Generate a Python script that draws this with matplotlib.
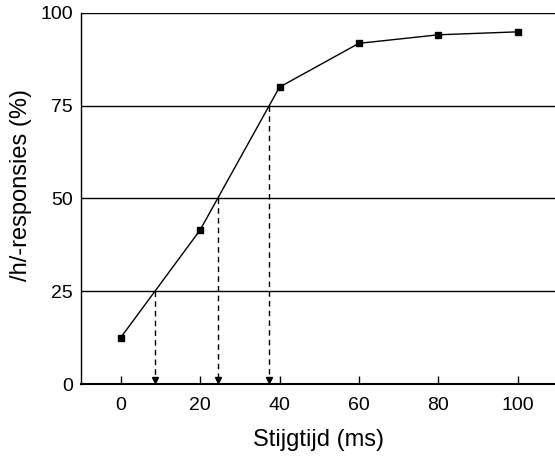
import matplotlib
matplotlib.use("Agg")
import matplotlib.pyplot as plt
import numpy as np

rise_time = [0, 20, 40, 60, 80, 100]
h_responses = [12.5, 41.5, 80.0, 91.8, 94.1, 94.9]
levels = [25, 50, 75]
xticks = [0, 20, 40, 60, 80, 100]
yticks = [0, 25, 50, 75, 100]

plt.rcParams['font.family'] = ['Liberation Sans', 'DejaVu Sans']

fig = plt.figure(figsize=(5.55, 4.61), dpi=100)
ax = fig.add_axes([0.146, 0.167, 0.854, 0.805])

for lv in yticks[1:]:
    ax.axhline(lv, color='black', lw=1.0, zorder=1)

ax.plot(rise_time, h_responses, color='black', lw=1.0, marker='s',
        markersize=5, zorder=3)

for lv in levels:
    xc = np.interp(lv, h_responses, rise_time)
    ax.plot([xc, xc], [lv, 1.2], color='black', lw=1.0,
            linestyle=(0, (4, 3)), zorder=2)
    ax.plot([xc], [1.0], marker='v', color='black', markersize=5,
            linestyle='none', zorder=3, clip_on=False)

ax.set_xlim(-10, 109.4)
ax.set_ylim(0, 100)
ax.set_xticks(xticks)
ax.set_yticks(yticks)
ax.tick_params(axis='x', direction='in', length=6, width=1, pad=9,
               labelsize=14)
ax.tick_params(axis='y', length=0, pad=6, labelsize=14)

for s in ['top', 'right']:
    ax.spines[s].set_visible(False)
ax.spines['left'].set_linewidth(1.0)
ax.spines['bottom'].set_linewidth(1.5)

ax.set_xlabel('Stijgtijd (ms)', fontsize=17)
ax.set_ylabel('/h/-responsies (%)', fontsize=17)
ax.xaxis.set_label_coords(0.5, -0.151)
ax.yaxis.set_label_coords(-0.127, 0.536)
ax.xaxis.label.set_verticalalignment('center')
ax.yaxis.label.set_verticalalignment('center')

fig.savefig('out.png', dpi=100)
